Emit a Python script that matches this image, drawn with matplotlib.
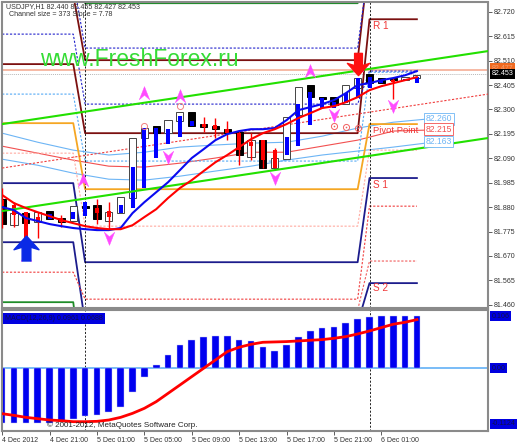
import numpy as np
import matplotlib
matplotlib.use('Agg')
import matplotlib.pyplot as plt
from matplotlib.path import Path

plt.rcParams['font.family'] = ['Liberation Sans', 'DejaVu Sans']

# candles, one per hour starting 4 Dec 17:00
opens = [81.914, 81.802, 81.854, 81.815, 81.863, 81.833, 81.820, 81.884, 81.888, 81.820, 81.854, 81.919,
         82.177, 82.228, 82.198, 82.250, 82.288, 82.237, 82.228, 82.215, 82.202, 82.095, 82.168, 82.048,
         82.086, 82.276, 82.405, 82.353, 82.353, 82.323, 82.392, 82.452, 82.435, 82.435, 82.426, 82.435]
closes = [81.807, 81.854, 81.811, 81.858, 81.828, 81.815, 81.884, 81.876, 81.828, 81.858, 81.923, 82.177,
          82.220, 82.198, 82.254, 82.288, 82.228, 82.224, 82.215, 82.198, 82.104, 82.168, 82.048, 82.091,
          82.267, 82.396, 82.353, 82.344, 82.318, 82.405, 82.435, 82.413, 82.413, 82.426, 82.439, 82.447]
thick_top = [81.910, 81.889, 81.858, 81.837, 81.850, 81.833, 81.858, 81.901, 81.876, 81.863, 81.889, 82.052,
             82.220, 82.220, 82.215, 82.271, 82.250, 82.237, 82.233, 82.215, 82.198, 82.159, 82.168, 82.125,
             82.181, 82.323, 82.374, 82.349, 82.331, 82.370, 82.435, 82.439, 82.426, 82.426, 82.430, 82.439]
thick_bot = [81.884, 81.845, 81.686, 81.815, 81.828, 81.815, 81.828, 81.841, 81.854, 81.837, 81.854, 81.876,
             81.962, 82.091, 82.151, 82.181, 82.228, 82.224, 82.215, 82.198, 82.125, 82.142, 82.082, 82.048,
             82.104, 82.142, 82.233, 82.306, 82.306, 82.327, 82.349, 82.392, 82.413, 82.417, 82.426, 82.413]
thick_col = list('rrrrbrbbrrbbbbbbbrrrrrrrbbbbbbbbbrbb')
wick_bars = [0, 1, 2, 3, 5, 8, 9, 17, 18, 19, 20, 21, 22, 23, 33]
wick_high = [81.962, 81.901, 81.858, 81.858, 81.845, 81.914, 81.901, 82.267, 82.263, 82.250, 82.211, 82.198, 82.168, 82.134, 82.435]
wick_low = [81.790, 81.794, 81.686, 81.747, 81.794, 81.807, 81.781, 82.202, 82.177, 82.168, 82.060, 82.082, 82.048, 82.048, 82.344]

ma_fast = [81.880, 81.867, 81.833, 81.820, 81.807, 81.798, 81.790, 81.785, 81.781, 81.781, 81.790, 81.854,
           81.901, 81.944, 81.987, 82.039, 82.091, 82.129, 82.168, 82.194, 82.207, 82.215, 82.215, 82.220,
           82.254, 82.297, 82.310, 82.323, 82.340, 82.370, 82.405, 82.413, 82.426, 82.435, 82.447, 82.465]
ma_slow = [81.932, 81.897, 81.876, 81.858, 81.841, 81.824, 81.811, 81.798, 81.790, 81.785, 81.785, 81.802,
           81.837, 81.871, 81.919, 81.962, 81.996, 82.035, 82.073, 82.104, 82.138, 82.172, 82.198, 82.215,
           82.237, 82.263, 82.284, 82.306, 82.314, 82.331, 82.353, 82.383, 82.400, 82.413, 82.426, 82.439]

band_x = [0, 3, 6, 9, 12, 15, 18, 21, 24, 27, 30, 33, 35.7]
band_up = [82.198, 82.159, 82.125, 82.104, 82.116, 82.138, 82.147, 82.155, 82.159, 82.185, 82.220, 82.245, 82.258]
band_lo = [82.086, 82.060, 82.026, 82.000, 81.996, 82.013, 82.035, 82.056, 82.082, 82.104, 82.121, 82.138, 82.155]
band_mid = [82.142, 82.112, 82.082, 82.056, 82.052, 82.069, 82.091, 82.116, 82.116, 82.142, 82.168, 82.207, 82.211]

# regression channel ends
chan_x = [0, 41]
chan_top = [82.237, 82.551]
chan_low = [81.863, 82.177]
chan_mid = [82.048, 82.366]

# pivot levels for 4, 5 and 6 Dec
pivot_x = [0, 6, 7, 30, 31, 35]
r3 = [82.942, 82.757, 83.200]
r2 = [82.792, 82.512, 82.970]
r1 = [82.495, 82.198, 82.688]
pp = [82.241, 81.957, 82.237]
s1 = [81.983, 81.643, 82.005]
s2 = [81.729, 81.381, 81.553]
s3 = [81.471, 81.050, 81.050]
mid_a = [82.856, 82.564, 82.942]
mid_b = [82.624, 82.323, 82.465]
mid_c = [82.366, 82.078, 82.460]
mid_d = [82.112, 81.798, 82.125]
mid_e = [81.600, 81.484, 81.884]
mid_f = [81.200, 81.437, 81.648]

arrow_up = [(12, 82.370), (15, 82.357), (26, 82.465), (6.8, 81.996), (2, 81.674), (30, 82.490)]
arrow_dn = [(14, 82.095), (9, 81.747), (23, 82.005), (28, 82.276), (33, 82.314)]
rings = [(12, 82.228), (15, 82.314)]
targets = [(28, 82.228), (29, 82.224), (30, 82.220)]

price_ticks = [82.720, 82.615, 82.510, 82.405, 82.300, 82.195, 82.090, 81.985, 81.880, 81.775, 81.670, 81.565, 81.460]
time_ticks = [0, 4, 8, 12, 16, 20, 24, 28, 32]
time_labels = ['4 Dec 2012', '4 Dec 21:00', '5 Dec 01:00', '5 Dec 05:00', '5 Dec 09:00',
               '5 Dec 13:00', '5 Dec 17:00', '5 Dec 21:00', '6 Dec 01:00']

macd = [-0.1117, -0.1117, -0.1117, -0.1117, -0.1117, -0.1083, -0.1029, -0.0961, -0.0948, -0.0894, -0.0785, -0.0474,
        -0.0169, 0.0061, 0.0271, 0.0474, 0.0575, 0.0630, 0.0657, 0.0657, 0.0575, 0.0555, 0.0440, 0.0359,
        0.0467, 0.0643, 0.0758, 0.0826, 0.0840, 0.0914, 0.1002, 0.1036, 0.1063, 0.1063, 0.1063, 0.1063]
signal = [-0.0921, -0.0955, -0.0995, -0.1022, -0.1049, -0.1063, -0.1083, -0.1083, -0.1076, -0.1049, -0.0995, -0.0914,
          -0.0812, -0.0677, -0.0508, -0.0339, -0.0169, 0.0, 0.0169, 0.0339, 0.0427, 0.0487, 0.0528, 0.0535,
          0.0542, 0.0555, 0.0569, 0.0582, 0.0609, 0.0643, 0.0697, 0.0758, 0.0826, 0.0894, 0.0934, 0.0988]

W, H = 518, 444
fig = plt.figure(figsize=(W / 100, H / 100), dpi=100, facecolor='white')
ax = fig.add_axes([2 / W, 1 - 308 / H, 486 / W, 305.5 / H])
ax2 = fig.add_axes([2 / W, 1 - 431 / H, 486 / W, 121 / H])
XLIM = (-0.013, 41.0)
GRAY = '#8a8a8a'


def stepped(levels):
    return [levels[0], levels[0], levels[1], levels[1], levels[2], levels[2]]


for a in (ax, ax2):
    a.set_xlim(*XLIM)
    for s in a.spines.values():
        s.set_color(GRAY)
        s.set_linewidth(1.5)
    a.yaxis.tick_right()
    a.tick_params(axis='y', labelsize=5.1, length=3, width=0.6, color='#444444', pad=1.5, labelcolor='#333333')

ax.set_ylim(81.446, 82.760)
ax.set_xticks([])
ax.set_yticks(price_ticks)
ax.set_yticklabels(['%.3f' % p for p in price_ticks])

# bid / ask
ax.axhline(82.470, color='#f4a58c', lw=1.1, zorder=1)
ax.axhline(82.453, color='#b8b8b8', lw=0.7, ls=(0, (1, 1)), zorder=1)

# bands
ax.plot(band_x, band_up, color='#6db5f5', lw=0.8, zorder=2)
ax.plot(band_x, band_lo, color='#6db5f5', lw=0.8, zorder=2)
ax.plot(band_x, band_mid, color='#f25050', lw=0.8, zorder=2)

# pivots
solid = [(r3, '#1e8c28'), (s3, '#1e8c28'), (r2, '#7b1010'), (r1, '#7b1010'), (pp, '#f5a623'), (s1, '#1c1c8c'), (s2, '#1c1c8c')]
for lv, col in solid:
    ax.plot(pivot_x, stepped(lv), color=col, lw=1.3, zorder=2)
dashed = [(mid_a, '#2222cc'), (mid_b, '#2222cc'), (mid_c, '#55aaf5'), (mid_d, '#ffaaa0'), (mid_e, '#f03c3c'), (mid_f, '#f05a5a')]
for lv, col in dashed:
    ax.plot(pivot_x, stepped(lv), color=col, lw=0.8, ls=(0, (2, 1.5)), zorder=2)

for d in (7, 31):
    ax.axvline(d, color='black', lw=0.6, ls=(0, (2.5, 2)), zorder=2)
    ax2.axvline(d, color='black', lw=0.6, ls=(0, (2.5, 2)), zorder=1)

# channel
ax.plot(chan_x, chan_mid, color='#f03c3c', lw=0.8, ls=(0, (2, 1.5)), zorder=3)
ax.plot(chan_x, chan_top, color='#22e000', lw=1.5, zorder=5)
ax.plot(chan_x, chan_low, color='#22e000', lw=1.5, zorder=5)

# candles
bars = np.arange(len(opens))
for i in bars:
    up = closes[i] > opens[i]
    ax.bar(i, abs(closes[i] - opens[i]), bottom=min(opens[i], closes[i]), width=0.6,
           facecolor='white' if up else 'black', edgecolor='#444444' if up else 'black', linewidth=0.7, zorder=3)
ax.vlines(wick_bars, wick_low, wick_high, color='#ff0000', lw=1.0, zorder=4)
for i in bars:
    col = '#0000ff' if thick_col[i] == 'b' else '#ff0000'
    ax.vlines(i, thick_bot[i], thick_top[i], color=col, lw=2.9, zorder=4)

ax.plot(bars, ma_fast, color='#0a0af0', lw=1.5, zorder=6)
ax.plot(bars, ma_slow, color='#ff0000', lw=1.5, zorder=6)

# fractal arrows
dart_up = Path([(0, 1), (0.75, -0.9), (0, -0.25), (-0.75, -0.9), (0, 1)], closed=True)
dart_dn = Path([(0, -1), (0.75, 0.9), (0, 0.25), (-0.75, 0.9), (0, -1)], closed=True)
ax.plot(*zip(*arrow_up), ls='', marker=dart_up, ms=10, mfc='#ff4bff', mec='#ff4bff', mew=0.3, zorder=7)
ax.plot(*zip(*arrow_dn), ls='', marker=dart_dn, ms=10, mfc='#ff4bff', mec='#ff4bff', mew=0.3, zorder=7)
ax.plot(*zip(*rings), ls='', marker='o', ms=4.4, mfc='none', mec='#f28080', mew=0.7, zorder=7)
ax.plot(*zip(*targets), ls='', marker='o', ms=4.4, mfc='none', mec='#f26060', mew=0.7, zorder=7)
ax.plot(*zip(*targets), ls='', marker='o', ms=1.2, mfc='#f26060', mec='none', zorder=7)

# big signal arrows
big_up = Path([(0, 1), (1, -0.1), (0.35, 0.1), (0.35, -1), (-0.35, -1), (-0.35, 0.1), (-1, -0.1), (0, 1)], closed=True)
big_dn = Path([(0, -1), (1, 0.1), (0.35, -0.1), (0.35, 1), (-0.35, 1), (-0.35, -0.1), (-1, 0.1), (0, -1)], closed=True)
ax.plot([2], [81.704], marker=big_up, ms=18, mfc='#0a2ae6', mec='#0a2ae6', zorder=8)
ax.plot([30], [82.495], marker=big_dn, ms=16, mfc='#ff1010', mec='#ff1010', zorder=8)

# level captions
for i, p, s in [(31.3, 82.660, 'R 1'), (31.3, 82.210, 'Pivot Point'), (31.3, 81.975, 'S 1'), (31.3, 81.530, 'S 2')]:
    ax.text(i, p, s, color='#f03838', fontsize=7.2 if len(s) < 5 else 6.8, va='center', ha='left', zorder=9)

for p, s, col in [(82.260, '82.260', '#6db5f5'), (82.215, '82.215', '#f25050'), (82.163, '82.163', '#6db5f5')]:
    ax.text(35.75, p, s, color=col, fontsize=6.2, va='center', ha='left', zorder=9,
            bbox=dict(boxstyle='square,pad=0.15', fc='white', ec=col, lw=0.6))

ax.text(3.2, 82.516, 'www.FreshForex.ru', color='#35dc35', fontsize=16.5, va='center', ha='left', zorder=9)
ax.text(0.35, 82.742, 'USDJPY,H1 82.440 82.455 82.427 82.453', color='#333333', fontsize=5.1, va='center', zorder=10)
ax.text(0.55, 82.707, 'Channel size = 373 Slope = 7.78', color='#333333', fontsize=5.1, va='center', zorder=10)

for p, s, fc, tc in [(82.477, '82.477', '#f06a20', '#f0a070'), (82.453, '82.453', 'black', 'white')]:
    ax.text(41.3, p, s, color=tc, fontsize=5.1, va='center', ha='left', clip_on=False, zorder=11,
            bbox=dict(boxstyle='square,pad=0.25', fc=fc, ec='none'))

# MACD pane
ax2.set_ylim(-0.1272, 0.1183)
ax2.set_yticks([])
ax2.axhline(0, color='#55aaf5', lw=1.1, zorder=1)
ax2.bar(bars, macd, width=0.56, color='#0000f0', edgecolor='#c8c8f0', linewidth=0.3, zorder=2)
ax2.plot(bars, signal, color='#ff0000', lw=2.0, zorder=3)
ax2.set_xticks(time_ticks)
ax2.set_xticklabels(time_labels, ha='left')
ax2.tick_params(axis='x', labelsize=5.0, length=3, width=0.6, color='#444444', pad=1.5, labelcolor='#333333')

ax2.text(0.25, 0.1015, 'MACD(12,26,9) 0.0961 0.0688', color='#10104a', fontsize=5.1, va='center', ha='left', zorder=5,
         bbox=dict(boxstyle='square,pad=0.25', fc='#0000e0', ec='none'))
for v, s in [(0.106, '0.106'), (0.0, '0.00'), (-0.1124, '-0.1124')]:
    ax2.text(41.3, v, s, color='#10104a', fontsize=5.1, va='center', ha='left', clip_on=False, zorder=5,
             bbox=dict(boxstyle='square,pad=0.2', fc='#0000e0', ec='none'))
ax2.text(3.8, -0.1155, '© 2001-2012, MetaQuotes Software Corp.', color='#222222', fontsize=5.8, va='center', ha='left', zorder=6)

fig.savefig('out.png', dpi=100)
